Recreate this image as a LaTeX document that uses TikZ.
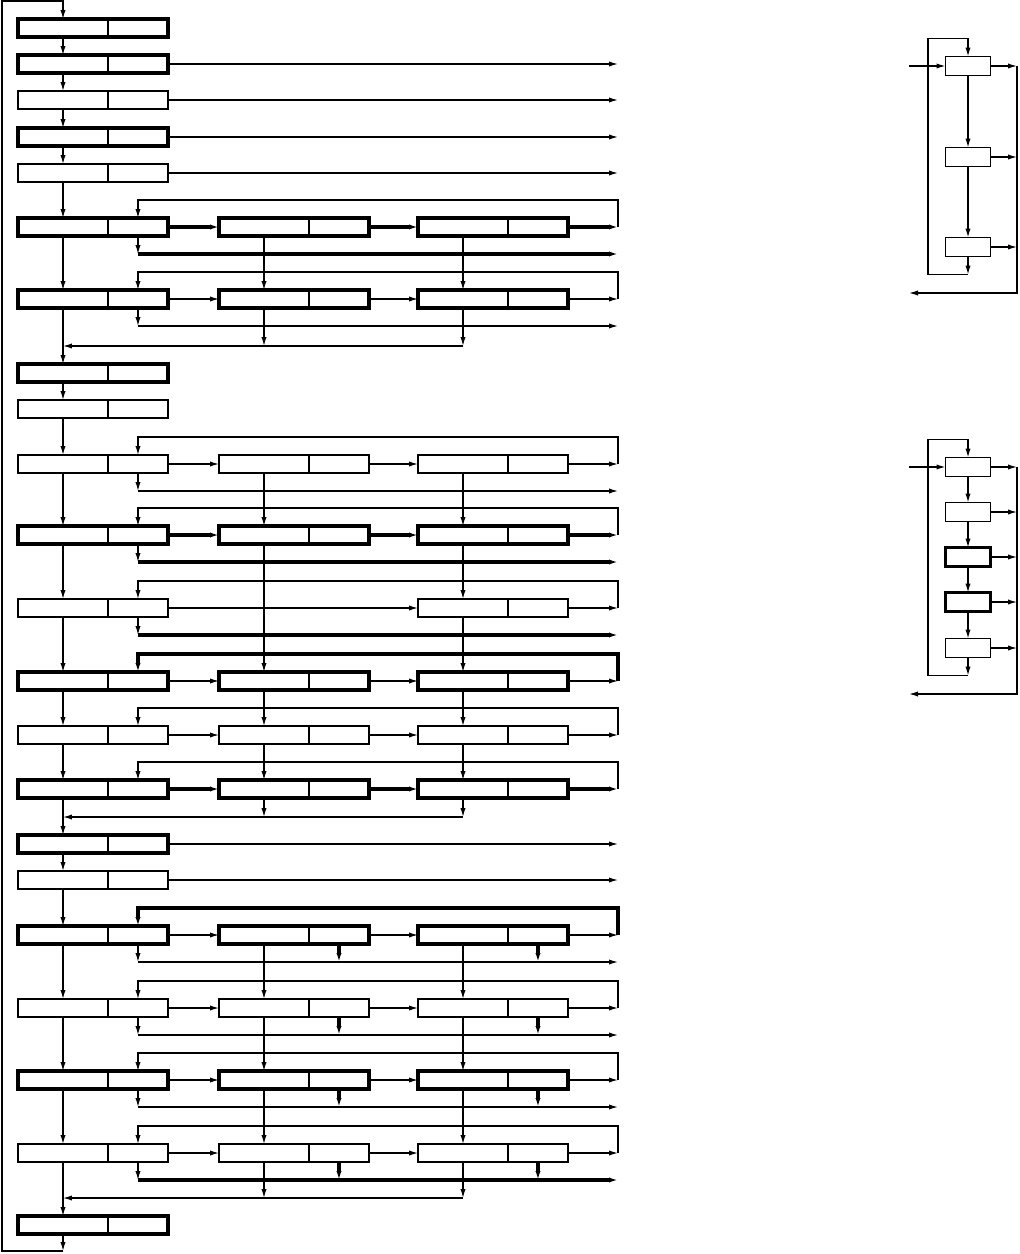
\documentclass[tikz,border=0pt]{standalone}
\usetikzlibrary{arrows.meta,calc}

% two-cell stage box: left cell is #2, right cell is #2r
\newcommand{\stagebox}[4][frame]{%
  \node[lcell] (#2) at (#3,#4) {};
  \node[rcell,anchor=west] (#2r) at (#2.east) {};
  \draw[#1] (#2.south west) rectangle (#2r.north east);
  \draw[divider] (#2.south east) -- (#2.north east);
}

\begin{document}
\begin{tikzpicture}[x=0.02cm,y=-0.02cm,>={Latex[length=1.8mm,width=1.05mm]},
  lcell/.style={rectangle,minimum width=1.8cm,minimum height=0.36cm,inner sep=0pt,outer sep=0pt},
  rcell/.style={lcell,minimum width=1.2cm},
  unit/.style={rectangle,draw,line width=0.7pt,minimum width=0.9cm,minimum height=0.38cm,inner sep=0pt,outer sep=0pt},
  unitbold/.style={unit,line width=1.75pt},
  frame/.style={line width=0.7pt},
  framebold/.style={line width=1.75pt},
  divider/.style={line width=0.65pt},
  wire/.style={line width=0.7pt},
  wirebold/.style={line width=1.8pt}]
  \useasboundingbox (0,0) rectangle (1019,1254);
  \coordinate (rim) at (618,0);

  % left column
  \stagebox[framebold]{L1}{63}{28}
  \stagebox[framebold]{L2}{63}{64}
  \stagebox{L3}{63}{100}
  \stagebox[framebold]{L4}{63}{137}
  \stagebox{L5}{63}{173}
  \stagebox[framebold]{L6}{63}{227}
  \stagebox[framebold]{L7}{63}{299}
  \stagebox[framebold]{L8}{63}{373}
  \stagebox{L9}{63}{409}
  \stagebox{L10}{63}{464}
  \stagebox[framebold]{L11}{63}{535}
  \stagebox{L12}{63}{608}
  \stagebox[framebold]{L13}{63}{681}
  \stagebox{L14}{63}{735}
  \stagebox[framebold]{L15}{63}{789}
  \stagebox[framebold]{L16}{63}{844}
  \stagebox{L17}{63}{880}
  \stagebox[framebold]{L18}{63}{935}
  \stagebox{L19}{63}{1008}
  \stagebox[framebold]{L20}{63}{1080}
  \stagebox{L21}{63}{1153}
  \stagebox[framebold]{L22}{63}{1225}

  % middle and right columns
  \stagebox[framebold]{M6}{264}{227}  \stagebox[framebold]{R6}{463}{227}
  \stagebox[framebold]{M7}{264}{299}  \stagebox[framebold]{R7}{463}{299}
  \stagebox{M10}{264}{464}            \stagebox{R10}{463}{464}
  \stagebox[framebold]{M11}{264}{535} \stagebox[framebold]{R11}{463}{535}
                                      \stagebox{R12}{463}{608}
  \stagebox[framebold]{M13}{264}{681} \stagebox[framebold]{R13}{463}{681}
  \stagebox{M14}{264}{735}            \stagebox{R14}{463}{735}
  \stagebox[framebold]{M15}{264}{789} \stagebox[framebold]{R15}{463}{789}
  \stagebox[framebold]{M18}{264}{935} \stagebox[framebold]{R18}{463}{935}
  \stagebox{M19}{264}{1008}           \stagebox{R19}{463}{1008}
  \stagebox[framebold]{M20}{264}{1080} \stagebox[framebold]{R20}{463}{1080}
  \stagebox{M21}{264}{1153}           \stagebox{R21}{463}{1153}

  % main chain and return loop
  \foreach \i [count=\j from 2] in {1,...,21}
    \draw[wire,->] (L\i.south) -- (L\j.north);
  \coordinate (loopend) at (63,1251);
  \draw[wire,->] (L22.south) -- (loopend);
  \draw[wire,->] (loopend) -- (2,1251) -- (2,1) -- (63,1) -- (L1.north);

  % single outputs
  \foreach \i in {2,3,4,5,16,17}
    \draw[wire,->] (L\i r.east) -- (L\i r.east -| rim);

  % rows of three boxes with feedback
  \foreach \i/\aw/\fw in {6/wirebold/wire,7/wire/wire,10/wire/wire,11/wirebold/wire,
      13/wire/wirebold,14/wire/wire,15/wirebold/wire,18/wire/wirebold,
      19/wire/wire,20/wire/wire,21/wire/wire} {
    \draw[\aw,->] (L\i r.east) -- (M\i.west);
    \draw[\aw,->] (M\i r.east) -- (R\i.west);
    \draw[\aw,->] (R\i r.east) -- (R\i r.east -| rim);
    \draw[\fw,->] (R\i r.east -| rim) |- ($(L\i r.north)+(0,-18)$) -- (L\i r.north);
  }
  \draw[wire,->] (L12r.east) -- (R12.west);
  \draw[wire,->] (R12r.east) -- (R12r.east -| rim);
  \draw[wire,->] (R12r.east -| rim) |- ($(L12r.north)+(0,-18)$) -- (L12r.north);

  % outputs below the rows
  \foreach \i/\ow in {6/wirebold,7/wire,10/wire,11/wirebold,12/wirebold,
      18/wire,19/wire,20/wire,21/wirebold} {
    \draw[wire,->] (L\i r.south) -- ++(0,18) coordinate (o\i);
    \draw[\ow,->] (o\i) -- (o\i -| rim);
  }
  \foreach \i in {18,...,21} {
    \draw[wirebold,->] (M\i r.south) -- ++(0,18);
    \draw[wirebold,->] (R\i r.south) -- ++(0,18);
  }

  % vertical links between rows
  \foreach \a/\b in {M6/M7,R6/R7,M10/M11,M11/M13,M13/M14,M14/M15,
      R10/R11,R11/R12,R12/R13,R13/R14,R14/R15,
      M18/M19,M19/M20,M20/M21,R18/R19,R19/R20,R20/R21}
    \draw[wire,->] (\a.south) -- (\b.north);

  % collecting lines back to the chain
  \coordinate (c7) at (63,346);
  \coordinate (c15) at (63,817);
  \coordinate (c21) at (63,1198);
  \foreach \i in {7,15,21} {
    \draw[wire,->] (M\i.south) -- (M\i.south |- c\i);
    \draw[wire,->] (R\i.south) -- (R\i.south |- c\i);
    \draw[wire,->] (R\i.south |- c\i) -- (c\i);
  }

  % upper side loop
  \coordinate (tside) at (1017,0);
  \node[unit] (ta) at (968,66) {};
  \node[unit] (tb) at (968,157) {};
  \node[unit] (tc) at (968,247) {};
  \coordinate (tin) at (909,66);
  \coordinate (tout) at (909,293);
  \draw[wire,->] (tin) -- (ta.west);
  \draw[wire,->] (ta.south) -- (tb.north);
  \draw[wire,->] (tb.south) -- (tc.north);
  \draw[wire,->] (tc.south) -- ++(0,18) coordinate (tlow);
  \draw[wire,->] (tlow) -| ($(ta.north)+(-40,-18)$) -| (ta.north);
  \foreach \n in {ta,tb,tc}
    \draw[wire,->] (\n.east) -- (\n.east -| tside);
  \draw[wire,->] (ta.east -| tside) |- (tout);

  % lower side loop
  \node[unit] (ua) at (968,467) {};
  \node[unit] (ub) at (968,512) {};
  \node[unitbold] (uc) at (968,557) {};
  \node[unitbold] (ud) at (968,602) {};
  \node[unit] (ue) at (968,648) {};
  \coordinate (uin) at (909,467);
  \coordinate (uout) at (909,694);
  \draw[wire,->] (uin) -- (ua.west);
  \draw[wire,->] (ua.south) -- (ub.north);
  \draw[wire,->] (ub.south) -- (uc.north);
  \draw[wire,->] (uc.south) -- (ud.north);
  \draw[wire,->] (ud.south) -- (ue.north);
  \draw[wire,->] (ue.south) -- ++(0,18) coordinate (ulow);
  \draw[wire,->] (ulow) -| ($(ua.north)+(-40,-18)$) -| (ua.north);
  \foreach \n in {ua,ub,uc,ud,ue}
    \draw[wire,->] (\n.east) -- (\n.east -| tside);
  \draw[wire,->] (ua.east -| tside) |- (uout);
\end{tikzpicture}
\end{document}
